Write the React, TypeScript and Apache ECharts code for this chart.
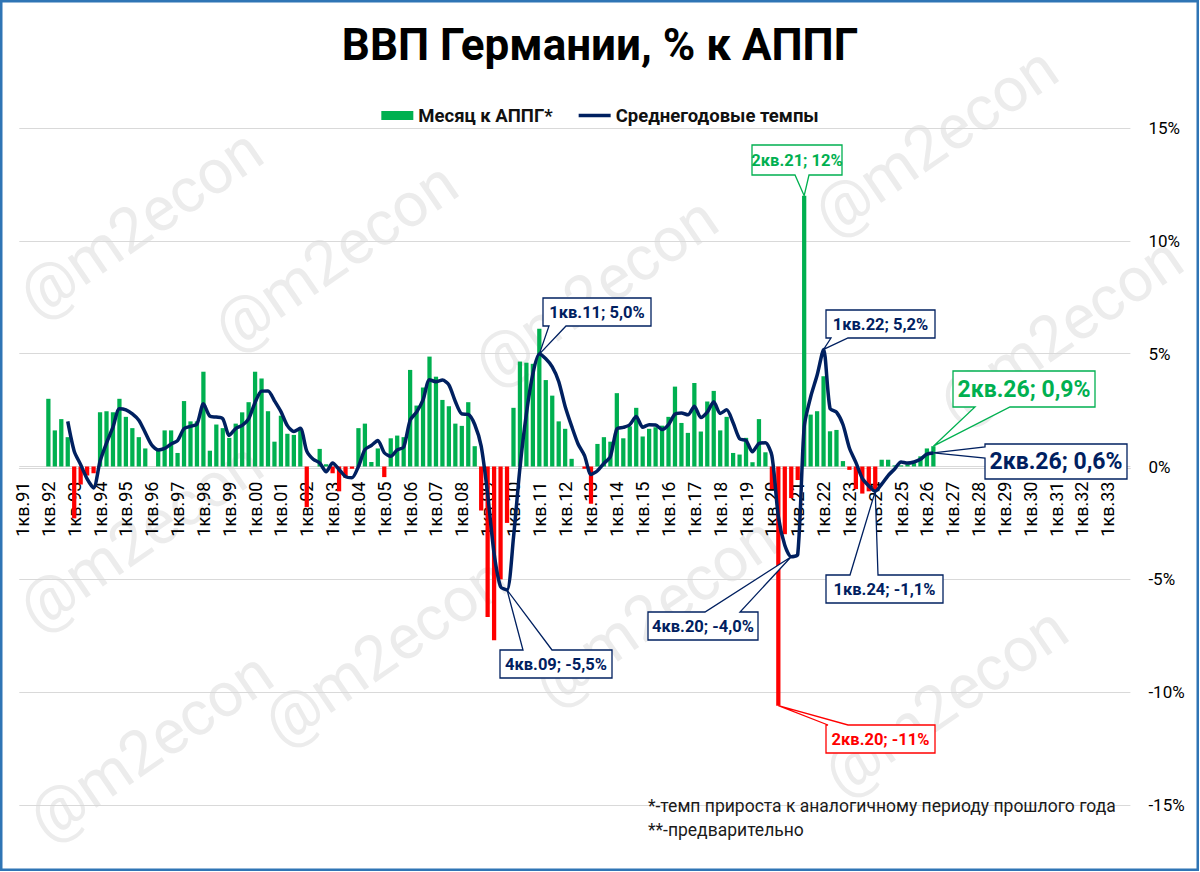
import React, { useEffect, useRef } from 'react';
import * as echarts from 'echarts';

const FONT = 'Roboto, "Noto Sans", "DejaVu Sans", sans-serif';
const GREEN = '#00b050';
const RED = '#ff0000';
const NAVY = '#002060';

const years = ['91','92','93','94','95','96','97','98','99','00','01','02','03','04','05','06','07','08','09','10','11','12','13','14','15','16','17','18','19','20','21','22','23','24','25','26','27','28','29','30','31','32','33'];
const quarterNames = ['1кв', '2кв', '3кв', '4кв'];

// Year-on-year growth, quarterly, from 1кв.91 (null where no data)
const barValues: (number | null)[] = [
  null, null, null, null,
  3.0, 1.6, 2.1, 1.3,
  -2.3, -0.8, -0.4, -0.3,
  2.4, 2.45, 2.4, 3.0,
  2.2, 1.7, 1.3, 0.8,
  0.0, 0.8, 1.6, 1.6,
  0.6, 2.9, 2.0, 2.0,
  4.2, 0.7, 1.86, 1.7,
  1.27, 1.9, 2.4, 2.85,
  4.2, 3.9, 2.45, 1.1,
  2.25, 1.45, 1.4, 1.67,
  -1.8, 0.0, 0.78, 0.1,
  -0.3, -1.1, -0.5, -0.1,
  1.7, 1.9, 0.2, 0.8,
  -0.47, 1.25, 1.37, 1.3,
  4.28, 2.7, 3.5, 4.87,
  3.98, 2.95, 2.67, 1.9,
  1.8, 2.85, 0.9, -1.95,
  -6.67, -7.7, -5.0, -2.5,
  2.6, 4.65, 4.6, 4.55,
  6.1, 3.83, 3.14, 2.0,
  1.67, 0.34, 0.0, -0.1,
  -1.65, 1.0, 1.3, 1.1,
  3.25, 1.25, 1.78, 2.6,
  1.33, 1.67, 1.74, 1.81,
  2.2, 3.54, 1.93, 1.49,
  3.7, 1.55, 2.88, 3.35,
  1.6, 2.2, 0.6, 0.53,
  1.27, 0.19, 2.1, 0.63,
  -1.0, -10.6, -3.0, -1.4,
  -0.6, 12.0, 2.3, 2.45,
  4.0, 1.56, 1.62, 0.24,
  -0.15, -1.0, -1.2, -1.1,
  -1.1, 0.3, 0.3, 0.05,
  0.05, 0.1, 0.15, 0.45,
  0.8, 0.9,
];

// Average annual rate (line)
const avgValues: (number | null)[] = [
  null, null, null, null,
  null, null, null, 2.0,
  0.68, 0.08, -0.55, -0.95,
  0.23, 1.04, 1.74, 2.56,
  2.51, 2.33, 2.05, 1.5,
  0.95, 0.73, 0.8, 1.0,
  1.15, 1.68, 1.78, 1.88,
  2.78, 2.23, 2.19, 2.12,
  1.38, 1.68, 1.82, 2.11,
  2.84, 3.34, 3.35, 2.91,
  2.43, 1.81, 1.55, 1.69,
  0.68, 0.32, 0.16, -0.23,
  0.15, -0.13, -0.45, -0.5,
  0.0, 0.75, 0.93, 1.15,
  0.61, 0.45, 0.74, 0.86,
  2.05, 2.41, 2.95, 3.84,
  3.76, 3.83, 3.62, 2.88,
  2.33, 2.31, 1.86, 0.9,
  -1.22, -3.86, -5.33, -5.47,
  -3.15, -0.06, 2.34, 4.1,
  4.98, 4.77, 4.41, 3.77,
  2.66, 1.79, 1.0, 0.48,
  -0.35, -0.19, 0.14, 0.44,
  1.66, 1.73, 1.85, 2.22,
  1.74, 1.85, 1.84, 1.64,
  1.86, 2.32, 2.37, 2.29,
  2.67, 2.17, 2.41, 2.87,
  2.35, 2.51, 1.94, 1.23,
  1.15, 0.65, 1.02, 1.05,
  0.48, -2.22, -3.49, -4.0,
  -3.9, 1.75, 3.08, 4.04,
  5.19, 2.58, 2.41, 1.86,
  0.82, 0.18, -0.53, -0.86,
  -1.1, -0.78, -0.4, -0.11,
  0.2, 0.15, 0.2, 0.32,
  0.55, 0.6,
];

const categories: string[] = [];
years.forEach((y) => quarterNames.forEach((q) => categories.push(`${q}.${y}`)));

const Y_MIN = -15;
const Y_MAX = 15;
const Y_STEP = 5;

type Ann = {
  text: string; color: string; size: number;
  box: [number, number, number, number];
  edge: 'top' | 'bottom' | 'left'; base: [number, number];
  series: number; index: number;
};

const annotations: Ann[] = [
  { text: '2кв.21; 12%', color: GREEN, size: 16.5, box: [752, 145, 90, 30], edge: 'bottom', base: [795, 809], series: 0, index: 121 },
  { text: '1кв.11; 5,0%', color: NAVY, size: 16.5, box: [543, 298, 108, 28], edge: 'bottom', base: [549, 566], series: 1, index: 80 },
  { text: '1кв.22; 5,2%', color: NAVY, size: 16.5, box: [826, 310, 109, 28], edge: 'bottom', base: [831, 848], series: 1, index: 124 },
  { text: '2кв.26; 0,9%', color: GREEN, size: 23, box: [953, 371, 142, 36], edge: 'bottom', base: [975, 1010], series: 0, index: 141 },
  { text: '2кв.26; 0,6%', color: NAVY, size: 23, box: [985, 444, 142, 35], edge: 'left', base: [447, 458], series: 1, index: 141 },
  { text: '4кв.09; -5,5%', color: NAVY, size: 16.5, box: [500, 650, 112, 28], edge: 'top', base: [523, 552], series: 1, index: 75 },
  { text: '4кв.20; -4,0%', color: NAVY, size: 16.5, box: [648, 612, 110, 28], edge: 'top', base: [705, 740], series: 1, index: 119 },
  { text: '1кв.24; -1,1%', color: NAVY, size: 16.5, box: [826, 575, 117, 28], edge: 'top', base: [850, 878], series: 1, index: 132 },
  { text: '2кв.20; -11%', color: RED, size: 16.5, box: [826, 725, 109, 28], edge: 'top', base: [828, 848], series: 0, index: 117 },
];

const watermarkPos: [number, number][] = [
  [140, 222], [335, 255], [595, 290], [935, 140], [1060, 330],
  [140, 535], [385, 650], [655, 610], [945, 700], [150, 745],
];

function calloutPoints(a: Ann, tip: number[]): number[][] {
  const [x, y, w, h] = a.box;
  const pts: number[][] = [[x, y]];
  if (a.edge === 'top') pts.push([a.base[0], y], tip, [a.base[1], y]);
  pts.push([x + w, y], [x + w, y + h]);
  if (a.edge === 'bottom') pts.push([a.base[1], y + h], tip, [a.base[0], y + h]);
  pts.push([x, y + h]);
  if (a.edge === 'left') pts.push([x, a.base[1]], tip, [x, a.base[0]]);
  return pts;
}

export default function App() {
  const ref = useRef<HTMLDivElement>(null);
  useEffect(() => {
    document.body.style.margin = '0';
    const chart = echarts.init(ref.current!, null, { renderer: 'svg' });
    chart.setOption({
      animation: false,
      backgroundColor: '#ffffff',
      title: {
        text: 'ВВП Германии, % к АППГ',
        left: 'center',
        top: 18,
        textStyle: { fontFamily: FONT, fontSize: 44, fontWeight: 'bold', color: '#000' },
      },
      legend: {
        top: 101,
        left: 'center',
        itemWidth: 32,
        itemHeight: 9,
        itemGap: 26,
        textStyle: { fontFamily: FONT, fontSize: 18.5, fontWeight: 'bold', color: '#111' },
        data: [
          { name: 'Месяц к АППГ*', icon: 'rect', itemStyle: { color: GREEN } },
          { name: 'Среднегодовые темпы', icon: 'path://M0,0H32V3.5H0Z', itemStyle: { color: NAVY } },
        ],
      },
      grid: { left: 19.3, right: 69.6, top: 128, bottom: 67, containLabel: false },
      xAxis: {
        type: 'category',
        data: categories,
        boundaryGap: true,
        axisLine: { show: true, onZero: false, lineStyle: { color: '#d9d9d9', width: 1 } },
        axisTick: { show: false },
        axisLabel: {
          interval: 3,
          rotate: 90,
          margin: 13,
          fontFamily: FONT,
          fontSize: 18,
          color: '#000',
        },
        splitLine: { show: false },
      },
      yAxis: {
        type: 'value',
        position: 'right',
        min: Y_MIN,
        max: Y_MAX,
        interval: Y_STEP,
        axisLine: { show: false },
        axisTick: { show: false },
        axisLabel: { formatter: '{value}%', fontFamily: FONT, fontSize: 17, color: '#000', margin: 18 },
        splitLine: { lineStyle: { color: '#d9d9d9', width: 1 } },
      },
      series: [
        {
          name: 'Месяц к АППГ*',
          type: 'bar',
          barCategoryGap: '34%',
          itemStyle: { color: GREEN },
          data: barValues.map((v) =>
            v === null ? null : { value: v, itemStyle: { color: v < 0 ? RED : GREEN } }
          ),
          z: 2,
        },
        {
          name: 'Среднегодовые темпы',
          type: 'line',
          data: avgValues,
          symbol: 'none',
          showSymbol: false,
          smooth: 0.25,
          lineStyle: { color: NAVY, width: 3.5 },
          itemStyle: { color: NAVY },
          z: 3,
        },
      ],
    });

    // put the category axis (and its labels) on the zero line
    const yZero = chart.convertToPixel({ yAxisIndex: 0 }, 0) as number;
    const yBottom = chart.convertToPixel({ yAxisIndex: 0 }, Y_MIN) as number;
    chart.setOption({ xAxis: { offset: -(yBottom - yZero) } });

    const elements: any[] = [];
    watermarkPos.forEach(([x, y]) => {
      elements.push({
        type: 'text', x, y, rotation: 0.6, z: -10, silent: true,
        style: { text: '@m2econ', fill: '#ececec', font: `normal 62px ${FONT}`, align: 'center', verticalAlign: 'middle' },
      });
    });
    elements.push({
      type: 'rect', z: 50, silent: true,
      shape: { x: 1.25, y: 1.25, width: 1196.5, height: 868.5 },
      style: { fill: 'none', stroke: '#2f75b5', lineWidth: 2.5 },
    });
    elements.push({
      type: 'text', x: 648, y: 806, z: 50,
      style: { text: '*-темп прироста к аналогичному периоду прошлого года', fill: '#1a1a1a', font: `normal 17.5px ${FONT}`, align: 'left', verticalAlign: 'middle' },
    });
    elements.push({
      type: 'text', x: 648, y: 830, z: 50,
      style: { text: '**-предварительно', fill: '#1a1a1a', font: `normal 17.5px ${FONT}`, align: 'left', verticalAlign: 'middle' },
    });

    annotations.forEach((a) => {
      const val = a.series === 0 ? barValues[a.index] : avgValues[a.index];
      const tip = chart.convertToPixel({ seriesIndex: a.series }, [a.index, val as number]) as number[];
      const [x, y, w, h] = a.box;
      elements.push({
        type: 'polygon', z: 100,
        shape: { points: calloutPoints(a, tip) },
        style: { fill: '#ffffff', stroke: a.color, lineWidth: 1.3 },
      });
      elements.push({
        type: 'text', z: 101, x: x + w / 2, y: y + h / 2,
        style: { text: a.text, fill: a.color, font: `bold ${a.size}px ${FONT}`, align: 'center', verticalAlign: 'middle' },
      });
    });

    chart.setOption({ graphic: { elements } });
    return () => chart.dispose();
  }, []);
  return <div ref={ref} style={{ width: 1200, height: 872 }} />;
}
